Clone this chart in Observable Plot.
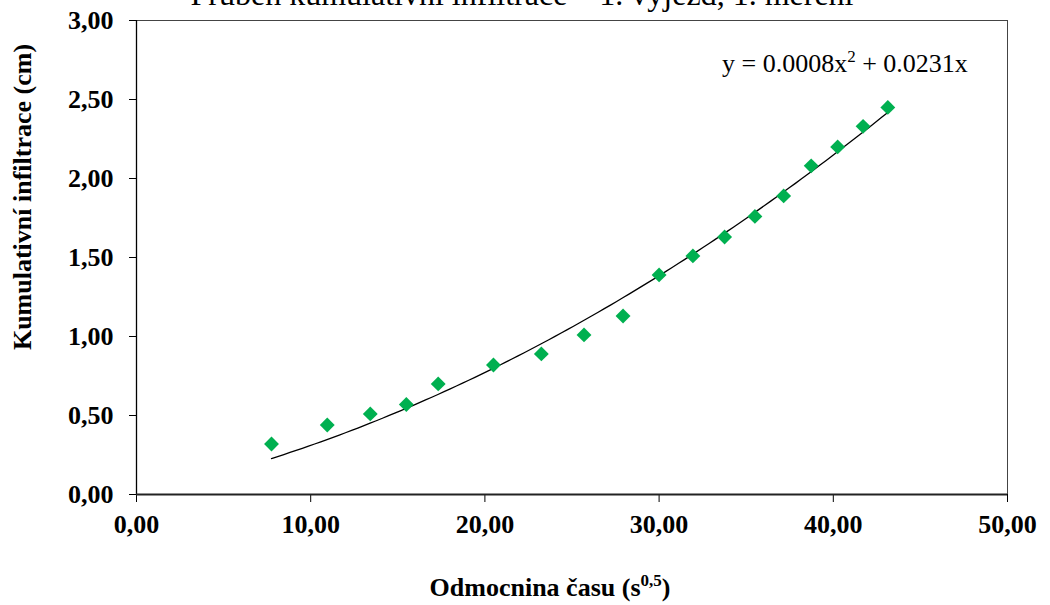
<!DOCTYPE html>
<html>
<head>
<meta charset="utf-8">
<script src="https://cdn.jsdelivr.net/npm/d3@7"></script>
<script src="https://cdn.jsdelivr.net/npm/@observablehq/plot@0.6"></script>
<style>
  html, body { margin: 0; padding: 0; background: #fff; overflow: hidden; }
  #chart { position: relative; width: 1050px; height: 605px; }
</style>
</head>
<body>
<div id="chart"></div>
<script>
// Data
const timeRoot = [7.75, 10.95, 13.42, 15.49, 17.32, 20.49, 23.24, 25.69, 27.93, 30.00, 31.94, 33.76, 35.50, 37.15, 38.73, 40.25, 41.71, 43.13];
const infiltration = [0.32, 0.44, 0.51, 0.57, 0.70, 0.82, 0.89, 1.01, 1.13, 1.39, 1.51, 1.63, 1.76, 1.89, 2.08, 2.20, 2.33, 2.45];
const xTicks = [0, 10, 20, 30, 40, 50];
const yTicks = [0, 0.5, 1, 1.5, 2, 2.5, 3];
const titleText = "Průběh kumulativní infiltrace – 1. výjezd, 1. měření";
const xLabel = "Odmocnina času (s";
const xLabelSup = "0,5";
const yLabel = "Kumulativní infiltrace (cm)";
const equationParts = ["y = 0.0008x", "2", " + 0.0231x"];

const points = timeRoot.map((x, i) => ({x, y: infiltration[i]}));

// Least-squares polynomial trend through origin: y = a x^2 + b x
let S4 = 0, S3 = 0, S2 = 0, Sx2y = 0, Sxy = 0;
for (const p of points) {
  S4 += p.x ** 4; S3 += p.x ** 3; S2 += p.x ** 2;
  Sx2y += p.x ** 2 * p.y; Sxy += p.x * p.y;
}
const det = S4 * S2 - S3 * S3;
const a = (Sx2y * S2 - S3 * Sxy) / det;
const b = (S4 * Sxy - S3 * Sx2y) / det;
const xMin = d3.min(timeRoot), xMax = d3.max(timeRoot);
const trend = d3.range(0, 101).map(i => {
  const x = xMin + (xMax - xMin) * i / 100;
  return {x, y: a * x * x + b * x};
});

const fmt = d => d.toFixed(2).replace(".", ",");

const plot = Plot.plot({
  width: 1050,
  height: 605,
  marginLeft: 136,
  marginRight: 43,
  marginTop: 20,
  marginBottom: 111,
  style: {fontFamily: "Liberation Serif", fontSize: "26px", fontWeight: "bold", background: "white", color: "black", overflow: "visible"},
  x: {domain: [0, 50]},
  y: {domain: [0, 3]},
  marks: [
    Plot.frame({stroke: "#444", strokeWidth: 1}),
    Plot.axisY({ticks: yTicks, tickFormat: fmt, tickSize: 7, tickPadding: 16, label: null, fontSize: 26, fontWeight: "bold"}),
    Plot.axisX({ticks: xTicks, tickFormat: fmt, tickSize: 8, tickPadding: 12, label: null, fontSize: 26, fontWeight: "bold"}),
    Plot.ruleX([0], {stroke: "black", strokeWidth: 1.3}),
    Plot.ruleY([0], {stroke: "#222", strokeWidth: 2}),
    Plot.line(trend, {x: "x", y: "y", stroke: "black", strokeWidth: 1.3}),
    Plot.dot(points, {x: "x", y: "y", symbol: "diamond2", r: 6.7, fill: "#00B050", stroke: "none"})
  ]
});

document.getElementById("chart").appendChild(plot);

const svg = d3.select(plot);
svg.append("text")
  .attr("x", 522).attr("y", 5)
  .attr("text-anchor", "middle")
  .style("font-family", "Liberation Serif").style("font-size", "32px").style("font-weight", "normal")
  .text(titleText);

svg.append("text")
  .attr("transform", "translate(31,197) rotate(-90)")
  .attr("text-anchor", "middle")
  .style("font-family", "Liberation Serif").style("font-size", "26px").style("font-weight", "bold")
  .text(yLabel);

const xl = svg.append("text")
  .attr("x", 550).attr("y", 596)
  .attr("text-anchor", "middle")
  .style("font-family", "Liberation Serif").style("font-size", "26px").style("font-weight", "bold");
xl.append("tspan").text(xLabel);
xl.append("tspan").attr("dy", -10).style("font-size", "17px").text(xLabelSup);
xl.append("tspan").attr("dy", 10).text(")");

const eq = svg.append("text")
  .attr("x", 722).attr("y", 72)
  .attr("text-anchor", "start")
  .style("font-family", "Liberation Serif").style("font-size", "26px").style("font-weight", "normal");
eq.append("tspan").text(equationParts[0]);
eq.append("tspan").attr("dy", -10).style("font-size", "17px").text(equationParts[1]);
eq.append("tspan").attr("dy", 10).text(equationParts[2]);
</script>
</body>
</html>
